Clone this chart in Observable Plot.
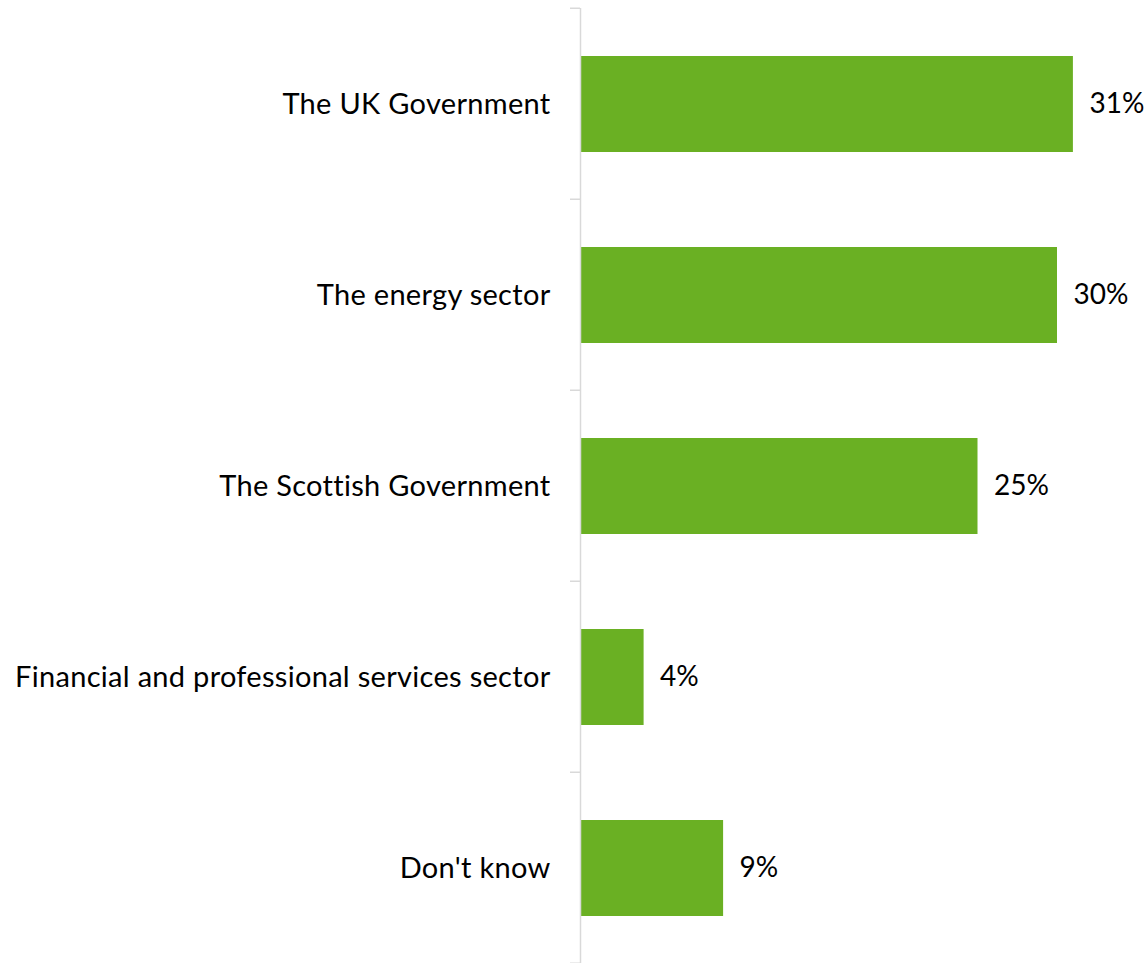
<!DOCTYPE html>
<html>
<head>
<meta charset="utf-8">
<script src="https://cdn.jsdelivr.net/npm/d3@7"></script>
<script src="https://cdn.jsdelivr.net/npm/@observablehq/plot@0.6"></script>
<style>
  html, body { margin: 0; padding: 0; background: #fff; }
  #chart { width: 1148px; height: 963px; }
</style>
</head>
<body>
<div id="chart"></div>
<script>
const categories = [
  "The UK Government",
  "The energy sector",
  "The Scottish Government",
  "Financial and professional services sector",
  "Don't know"
];
const values = [31, 30, 25, 4, 9];
const valueLabels = ["31%", "30%", "25%", "4%", "9%"];

const data = categories.map((c, i) => ({ category: c, value: values[i], label: valueLabels[i] }));

const FONT = "Lato, 'Open Sans', sans-serif";

const plot = Plot.plot({
  width: 1148,
  height: 963,
  marginLeft: 580,
  marginRight: 11.5,
  marginTop: 8,
  marginBottom: 0,
  style: { fontFamily: FONT, fontSize: "29px", color: "#000", background: "#fff" },
  x: { domain: [0, 35], axis: null },
  y: { domain: categories, paddingInner: 0.5, paddingOuter: 0.25, align: 0.5, label: null },
  marks: [
    Plot.barX(data, { x: "value", y: "category", fill: "#6AB023" }),
    Plot.text(data, { x: "value", y: "category", text: "label", textAnchor: "start", dx: 16, fontSize: 28, fill: "#000" }),
    Plot.axisY({ tickSize: 0, tickPadding: 30, fontSize: 29, label: null, fill: "#000" }),
    Plot.ruleX([0], { stroke: "#d9d9d9", strokeWidth: 1.5 })
  ]
});

document.getElementById("chart").appendChild(plot);
d3.select(plot).selectAll("[aria-label='y-axis tick label'] text").style("letter-spacing", "0.3px");

// boundary ticks between categories, from the band scale
const ys = plot.scale("y");
const xs = plot.scale("x");
const x0 = xs.apply(0);
const step = ys.step;
const firstBoundary = ys.apply(categories[0]) - step * ys.paddingInner / 2;
const svg = d3.select(plot);
const boundaries = d3.range(categories.length + 1).map(i => firstBoundary + i * step);
svg.append("g")
  .selectAll("line")
  .data(boundaries)
  .join("line")
  .attr("x1", x0 - 10)
  .attr("x2", x0)
  .attr("y1", d => d)
  .attr("y2", d => d)
  .attr("stroke", "#d9d9d9")
  .attr("stroke-width", 1.5);
</script>
</body>
</html>
